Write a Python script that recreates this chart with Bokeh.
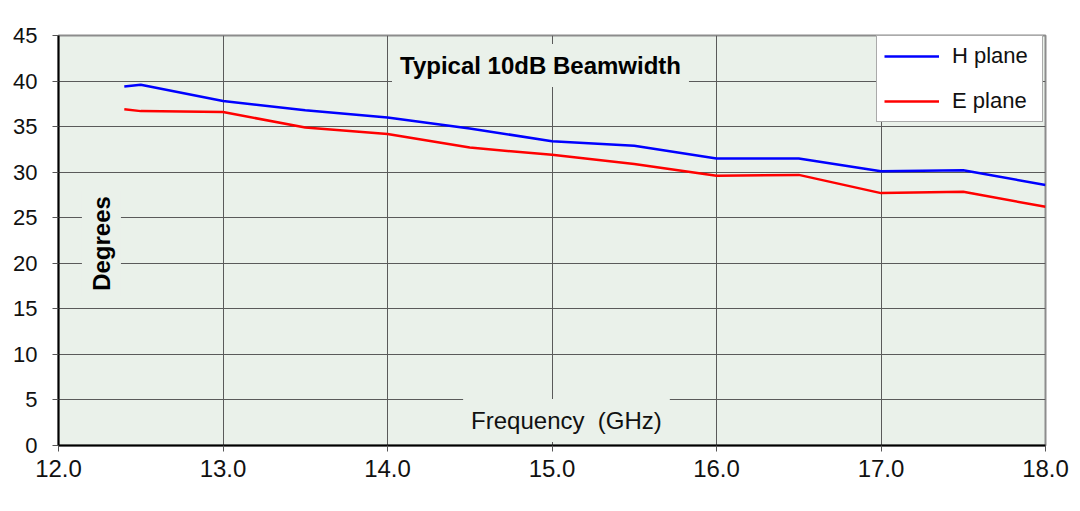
import math
from bokeh.plotting import figure
from bokeh.models import FixedTicker, Label, Legend, LegendItem, ColumnDataSource
from bokeh.embed import file_html
from bokeh.resources import INLINE

freq = [12.4, 12.5, 13.0, 13.5, 14.0, 14.5, 15.0, 15.5, 16.0, 16.5, 17.0, 17.5, 18.0]
h_plane = [39.4, 39.6, 37.8, 36.8, 36.0, 34.8, 33.4, 32.9, 31.5, 31.5, 30.1, 30.2, 28.6]
e_plane = [36.9, 36.7, 36.6, 34.9, 34.2, 32.7, 31.9, 30.9, 29.6, 29.7, 27.7, 27.85, 26.2]
x_ticks = [12, 13, 14, 15, 16, 17, 18]
y_ticks = [0, 5, 10, 15, 20, 25, 30, 35, 40, 45]

FONT = "Liberation Sans"
BG = "#EAF1EA"

p = figure(width=1072, height=505, output_backend="svg", toolbar_location=None,
           x_range=(12, 18), y_range=(0, 45),
           min_border_left=58, min_border_right=27, min_border_top=35, min_border_bottom=60)
p.background_fill_color = BG
p.border_fill_color = "white"
p.outline_line_color = "#8c8c8c"
p.outline_line_width = 2

src = ColumnDataSource(dict(f=freq, h=h_plane, e=e_plane))
rh = p.line("f", "h", source=src, line_color="#0000FF", line_width=2.5)
re_ = p.line("f", "e", source=src, line_color="#FF0000", line_width=2.5)

for ax in (p.xaxis[0], p.yaxis[0]):
    ax.axis_line_color = "black"
    ax.axis_line_width = 2
    ax.major_tick_line_color = "#555555"
    ax.major_tick_out = 6
    ax.major_tick_in = 0
    ax.minor_tick_line_color = None
    ax.major_label_text_font = FONT
    ax.major_label_text_color = "#111111"

p.xaxis.ticker = FixedTicker(ticks=x_ticks)
p.yaxis.ticker = FixedTicker(ticks=y_ticks)
p.xaxis.major_label_overrides = {t: f"{t:.1f}" for t in x_ticks}
p.xaxis.major_label_text_font_size = "24px"
p.yaxis.major_label_text_font_size = "22px"
p.xaxis.major_label_standoff = 8
p.yaxis.major_label_standoff = 15

p.xgrid.ticker = FixedTicker(ticks=x_ticks[1:-1])
p.ygrid.ticker = FixedTicker(ticks=y_ticks[1:-1])
p.xgrid.grid_line_color = "#5a5a5a"
p.ygrid.grid_line_color = "#5a5a5a"
p.xgrid.grid_line_width = 1
p.ygrid.grid_line_width = 1

title = Label(x=14.93, y=41.7, text="Typical 10dB Beamwidth", text_font=FONT,
              text_font_size="24px", text_font_style="bold", text_align="center",
              text_baseline="middle", background_fill_color=BG, padding=8, text_color="black")
p.add_layout(title)

ylab = Label(x=12.261, y=22.17, text="Degrees", angle=math.pi / 2, text_font=FONT,
             text_font_size="24px", text_font_style="bold", text_align="center",
             text_baseline="middle", background_fill_color=BG, padding=6, text_color="black")
p.add_layout(ylab)

xlab = Label(x=15.088, y=2.74, text="Frequency\u00a0 (GHz)", text_font=FONT,
             text_font_size="24px", text_align="center", text_baseline="middle",
             background_fill_color=BG, padding=8, text_color="#111111")
p.add_layout(xlab)

legend = Legend(items=[LegendItem(label="H plane", renderers=[rh]),
                       LegendItem(label="E plane", renderers=[re_])],
                location=(818, 323), orientation="vertical")
legend.label_text_font = FONT
legend.label_text_font_size = "22px"
legend.label_text_color = "#111111"
legend.glyph_width = 55
legend.glyph_height = 20
legend.label_height = 20
legend.label_width = 83
legend.spacing = 19
legend.padding = 7
legend.margin = 0
legend.label_standoff = 13
legend.border_line_color = "#555555"
legend.border_line_width = 1
legend.background_fill_color = "white"
legend.background_fill_alpha = 1
p.add_layout(legend)

open("out.html", "w").write(file_html(p, INLINE))
